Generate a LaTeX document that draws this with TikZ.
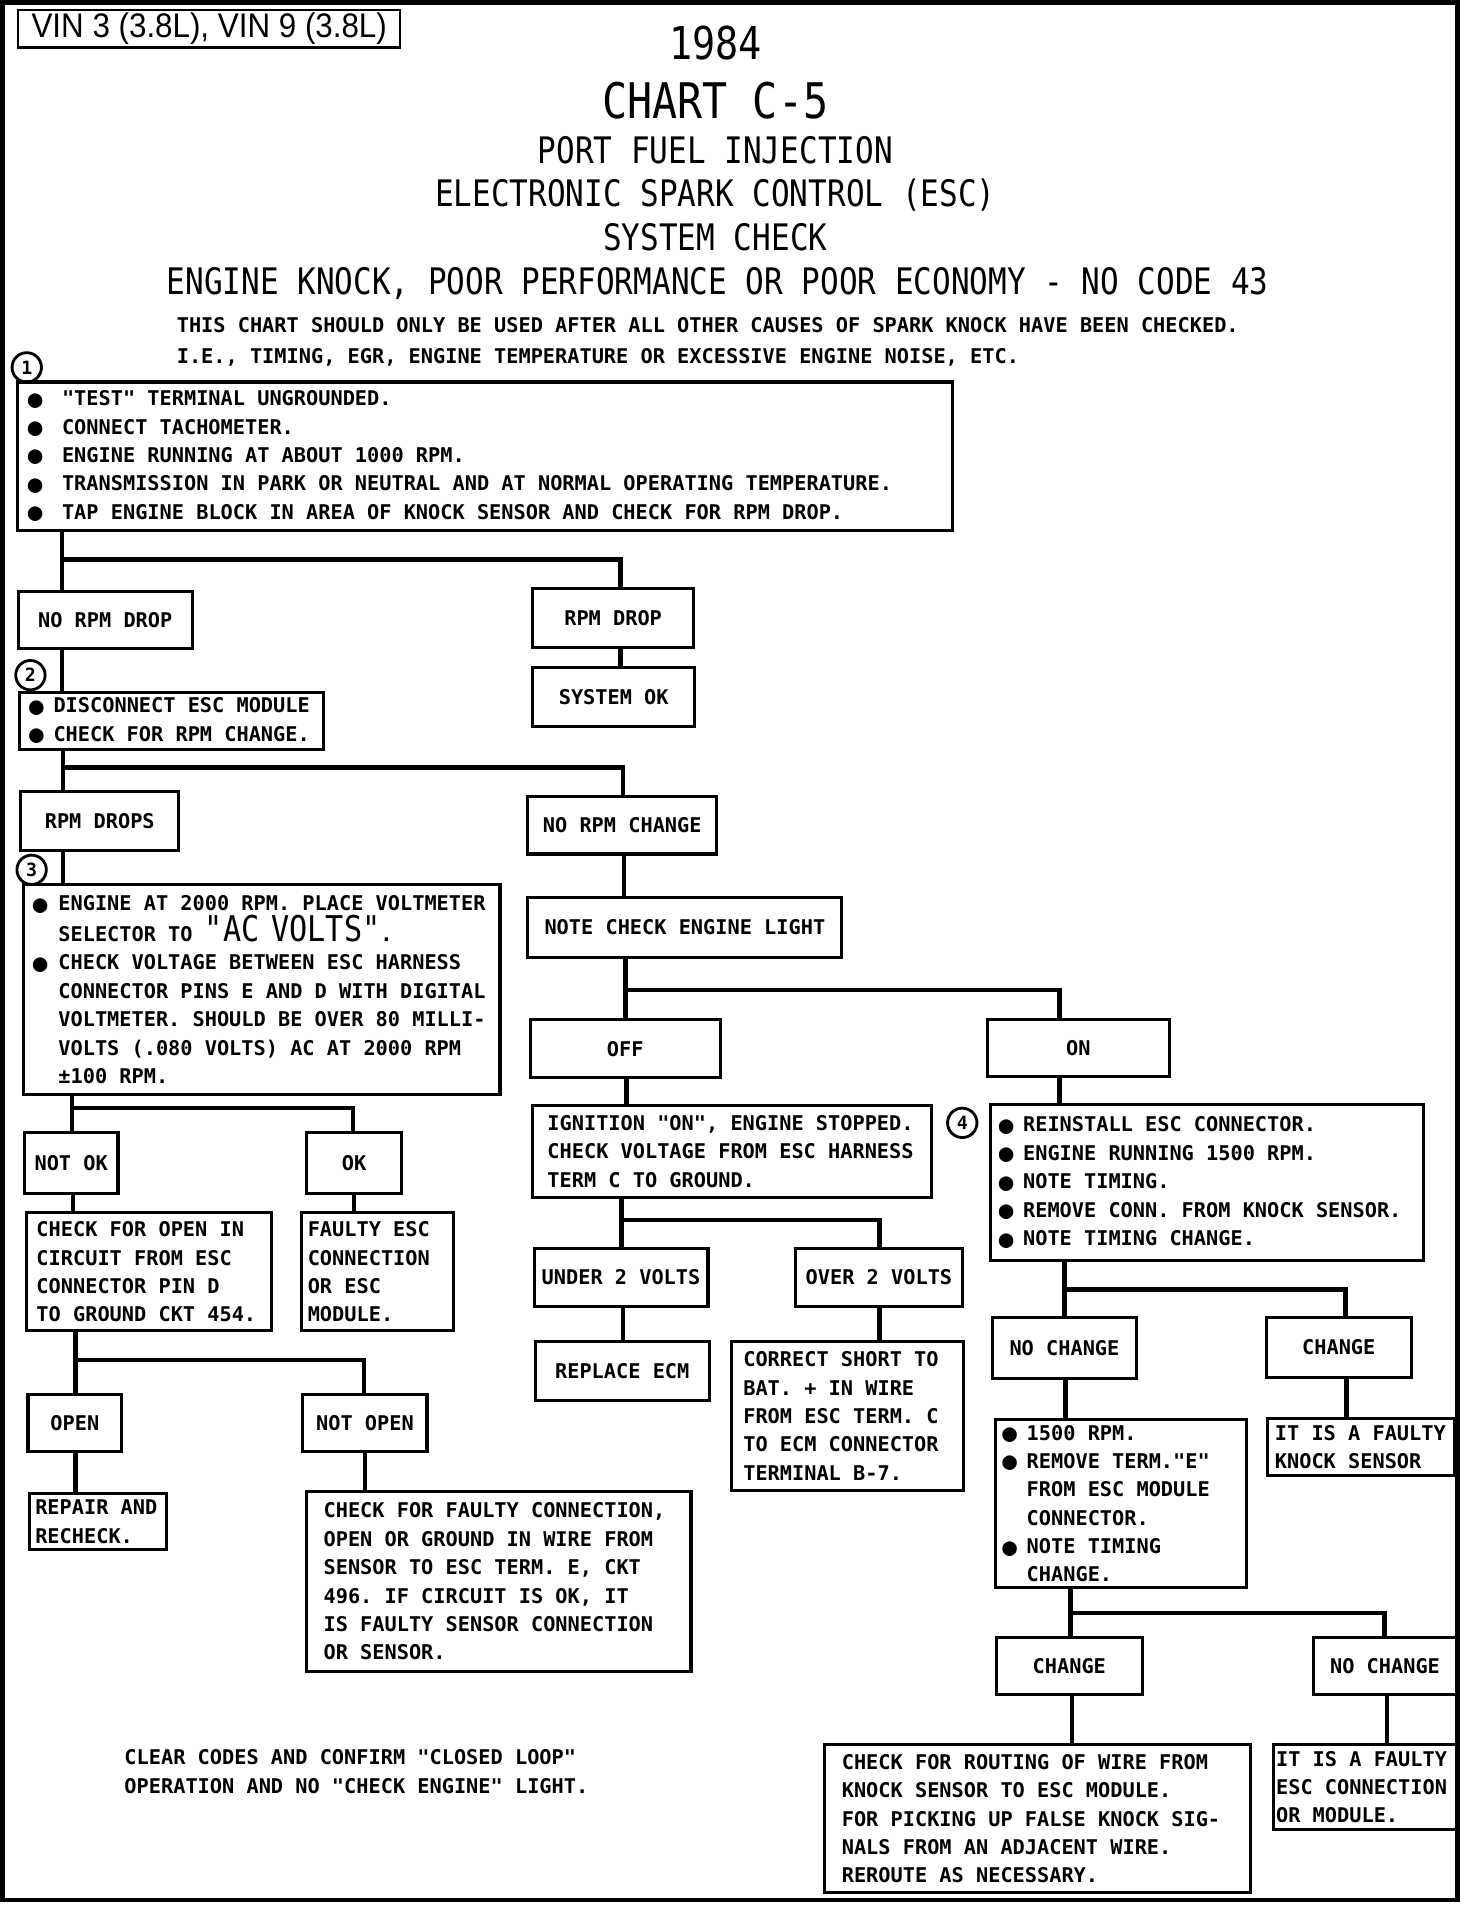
\documentclass[tikz,border=0pt]{standalone}
\usepackage{fontspec}
\usepackage{graphicx}
\newfontfamily\plotfont{DejaVu Sans Mono}
\newfontfamily\titlefont{DejaVu Sans Mono}[FakeStretch=0.85]
\newfontfamily\vinfont{Liberation Sans}[FakeStretch=0.92]
\newlength\bulwd
\setlength\bulwd{12.6pt}
\newcommand{\bul}{\makebox[\bulwd][l]{\hspace*{0.6pt}\raisebox{-0.75pt}{\scalebox{1.2}{●}}}}
\newcommand{\bulind}{\hspace*{\bulwd}}

\begin{document}
\begin{tikzpicture}[x=0.6pt, y=-0.6pt,
  cbox/.style={draw, line width=1.5pt, inner sep=0pt, font=\plotfont\bfseries\fontsize{10}{14}\selectfont},
  lbox/.style={cbox, align=left, execute at begin node={\spaceskip=6.02pt\xspaceskip=6.02pt\relax}},
  sz/.code 2 args={\pgfmathsetlengthmacro\bxw{#1*0.6pt}\pgfmathsetlengthmacro\bxh{#2*0.6pt}%
    \edef\chtmp{\noexpand\pgfkeysalso{minimum width=\bxw,minimum height=\bxh}}\chtmp},
  tw/.code={\pgfmathsetlengthmacro\twd{#1*0.6pt}\edef\chtmp{\noexpand\pgfkeysalso{text width=\twd}}\chtmp},
  link/.style={line width=2.2pt},
  numc/.style={circle, draw, line width=1.4pt, minimum size=14.5pt, inner sep=0pt, font=\plotfont\bfseries\fontsize{9}{9}\selectfont},
  headline/.style={anchor=base, font=\titlefont\fontsize{18}{20}\selectfont}]
\useasboundingbox (0,0) rectangle (1210,1575);
\draw[line width=2.1pt] (2,2) rectangle (1198,1562);

% heading
\node[draw, line width=1.2pt, inner sep=0pt, sz={314}{31}, font=\vinfont\fontsize{16.8}{18}\selectfont] (vin) at (172,23.5) {VIN 3 (3.8L), VIN 9 (3.8L)};
\node[headline, font=\titlefont\fontsize{22.3}{24}\selectfont] (year) at (588,49) {1984};
\node[headline, font=\titlefont\fontsize{24.2}{26}\selectfont] (chart) at (588,97) {CHART C-5};
\node[headline] (pfi) at (588,134) {PORT FUEL INJECTION};
\node[headline] (esc) at (588,170) {ELECTRONIC SPARK CONTROL (ESC)};
\node[headline] (syschk) at (588,206) {SYSTEM CHECK};
\node[headline] (knock) at (590,242) {ENGINE KNOCK, POOR PERFORMANCE OR POOR ECONOMY - NO CODE 43};
\node[anchor=north west, inner sep=0pt, align=left, font=\plotfont\bfseries\fontsize{10}{15}\selectfont] (intro) at (145,261)
  {THIS CHART SHOULD ONLY BE USED AFTER ALL OTHER CAUSES OF SPARK KNOCK HAVE BEEN CHECKED.\\
   I.E., TIMING, EGR, ENGINE TEMPERATURE OR EXCESSIVE ENGINE NOISE, ETC.};

% step numbers
\node[numc] (s1) at (22,302) {1};
\node[numc] (s2) at (25,555) {2};
\node[numc] (s3) at (26,715) {3};
\node[numc] (s4) at (791,923) {4};

% left column
\node[lbox, sz={769}{122}, tw=753] (b1) at (398.5,375) {\setlength\bulwd{17.4pt}%
  \bul "TEST" TERMINAL UNGROUNDED.\\
  \bul CONNECT TACHOMETER.\\
  \bul ENGINE RUNNING AT ABOUT 1000 RPM.\\
  \bul TRANSMISSION IN PARK OR NEUTRAL AND AT NORMAL OPERATING TEMPERATURE.\\
  \bul TAP ENGINE BLOCK IN AREA OF KNOCK SENSOR AND CHECK FOR RPM DROP.};
\node[cbox, sz={143}{47}] (norpm) at (86.5,509.5) {NO RPM DROP};
\node[cbox, sz={132}{48}] (rpmdrop) at (504,508) {RPM DROP};
\node[cbox, sz={133}{48}] (sysok) at (504.5,573) {SYSTEM OK};
\node[lbox, sz={250}{47}, tw=236] (b2) at (141,592.5) {\bul DISCONNECT ESC MODULE\\
  \bul CHECK FOR RPM CHANGE.};
\node[cbox, sz={130}{48}] (rpmdrops) at (82,675) {RPM DROPS};
\node[cbox, sz={155}{47}] (norpmchg) at (511.5,678.5) {NO RPM CHANGE};
\node[cbox, sz={258}{49}] (cel) at (563,762.5) {NOTE CHECK ENGINE LIGHT};
\node[lbox, sz={392}{173}, tw=378] (b3) at (215,813.5) {\setlength\bulwd{13.2pt}%
  \bul ENGINE AT 2000 RPM. PLACE VOLTMETER\\
  \bulind SELECTOR TO {\titlefont\mdseries\fontsize{17.5}{14}\selectfont"AC VOLTS"}.\\
  \bul CHECK VOLTAGE BETWEEN ESC HARNESS\\
  \bulind CONNECTOR PINS E AND D WITH DIGITAL\\
  \bulind VOLTMETER. SHOULD BE OVER 80 MILLI-\\
  \bulind VOLTS (.080 VOLTS) AC AT 2000 RPM\\
  \bulind ±100 RPM.};
\node[cbox, sz={77}{50}] (notok) at (58.5,956) {NOT OK};
\node[cbox, sz={78}{50}] (ok) at (291,956) {OK};
\node[lbox, sz={201}{97}, tw=185] (chkopen) at (122.5,1045.5) {CHECK FOR OPEN IN\\
  CIRCUIT FROM ESC\\ CONNECTOR PIN D\\ TO GROUND CKT 454.};
\node[lbox, sz={125}{97}, tw=115] (faultyesc) at (310.5,1045.5) {FAULTY ESC\\
  CONNECTION\\ OR ESC\\ MODULE.};
\node[cbox, sz={77}{47}] (open) at (61.5,1169.5) {OPEN};
\node[cbox, sz={102}{47}] (notopen) at (300,1169.5) {NOT OPEN};
\node[lbox, sz={113}{46}, tw=103] (repair) at (80.5,1251) {REPAIR AND\\ RECHECK.};
\node[lbox, sz={316}{148}, tw=288] (chkfaulty) at (410,1300) {CHECK FOR FAULTY CONNECTION,\\
  OPEN OR GROUND IN WIRE FROM\\
  SENSOR TO ESC TERM. E, CKT\\
  496. IF CIRCUIT IS OK, IT\\
  IS FAULTY SENSOR CONNECTION\\
  OR SENSOR.};
\node[anchor=north west, inner sep=0pt, align=left, font=\plotfont\bfseries\fontsize{10}{14}\selectfont] (clear) at (102,1438)
  {CLEAR CODES AND CONFIRM "CLOSED LOOP"\\
   OPERATION AND NO "CHECK ENGINE" LIGHT.};

% middle column
\node[cbox, sz={156}{48}] (off) at (514,862) {OFF};
\node[lbox, sz={328}{75}, tw=304] (ign) at (602,946.5) {IGNITION "ON", ENGINE STOPPED.\\
  CHECK VOLTAGE FROM ESC HARNESS\\
  TERM C TO GROUND.};
\node[cbox, sz={143}{48}] (under) at (510.5,1050) {UNDER 2 VOLTS};
\node[cbox, sz={137}{48}] (over) at (722.5,1050) {OVER 2 VOLTS};
\node[cbox, sz={143}{48}] (replace) at (511.5,1127) {REPLACE ECM};
\node[lbox, sz={191}{122}, tw=171] (correct) at (696.5,1164) {CORRECT SHORT TO\\
  BAT. + IN WIRE\\ FROM ESC TERM. C\\ TO ECM CONNECTOR\\ TERMINAL B-7.};

% right column
\node[cbox, sz={149}{47}] (on) at (886.5,861.5) {ON};
\node[lbox, sz={356}{128}, tw=344] (b4) at (992,972) {\bul REINSTALL ESC CONNECTOR.\\
  \bul ENGINE RUNNING 1500 RPM.\\
  \bul NOTE TIMING.\\
  \bul REMOVE CONN. FROM KNOCK SENSOR.\\
  \bul NOTE TIMING CHANGE.};
\node[cbox, sz={118}{50}] (nochg1) at (875,1108) {NO CHANGE};
\node[cbox, sz={119}{49}] (chg1) at (1100.5,1107.5) {CHANGE};
\node[lbox, sz={207}{138}, tw=197] (b5) at (921.5,1236) {\bul 1500 RPM.\\
  \bul REMOVE TERM."E"\\
  \bulind FROM ESC MODULE\\
  \bulind CONNECTOR.\\
  \bul NOTE TIMING\\
  \bulind CHANGE.};
\node[lbox, sz={154}{47}, tw=142] (knocksens) at (1119,1189.5) {IT IS A FAULTY\\ KNOCK SENSOR};
\node[cbox, sz={120}{47}] (chg2) at (879,1369.5) {CHANGE};
\node[cbox, sz={117}{47}] (nochg2) at (1138.5,1369.5) {NO CHANGE};
\node[lbox, sz={350}{122}, tw=322] (route) at (853,1495) {CHECK FOR ROUTING OF WIRE FROM\\
  KNOCK SENSOR TO ESC MODULE.\\
  FOR PICKING UP FALSE KNOCK SIG-\\
  NALS FROM AN ADJACENT WIRE.\\
  REROUTE AS NECESSARY.};
\node[lbox, sz={150}{70}, tw=146] (faultymod) at (1122,1469) {IT IS A FAULTY\\
  ESC CONNECTION\\ OR MODULE.};

% straight links
\foreach \a/\b/\x in {b1/norpm/51, rpmdrop/sysok/510, norpm/b2/51, b2/rpmdrops/52,
    norpmchg/cel/513, rpmdrops/b3/52, cel/off/514, on/b4/871, off/ign/515,
    ign/under/511, under/replace/512, over/correct/723, b3/notok/59,
    notok/chkopen/60, ok/faultyesc/291, chkopen/open/62, open/repair/62,
    notopen/chkfaulty/300, b4/nochg1/875, nochg1/b5/876, chg1/knocksens/1107,
    b5/chg2/880, chg2/route/881, nochg2/faultymod/1140}
  \draw[link] (\a.south -| \x,0) -- (\b.north -| \x,0);
% branch links
\foreach \a/\b/\x/\y/\xx in {b1/rpmdrop/51/460/510, b2/norpmchg/52/631/512,
    cel/on/514/814/871, ign/over/511/1003/723, b3/ok/59/911/290,
    chkopen/notopen/62/1118/299, b4/chg1/875/1060/1106, b5/nochg2/880/1326/1138}
  \draw[link] (\a.south -| \x,0) |- (\xx,\y) -- (\b.north -| \xx,0);
\end{tikzpicture}
\end{document}
